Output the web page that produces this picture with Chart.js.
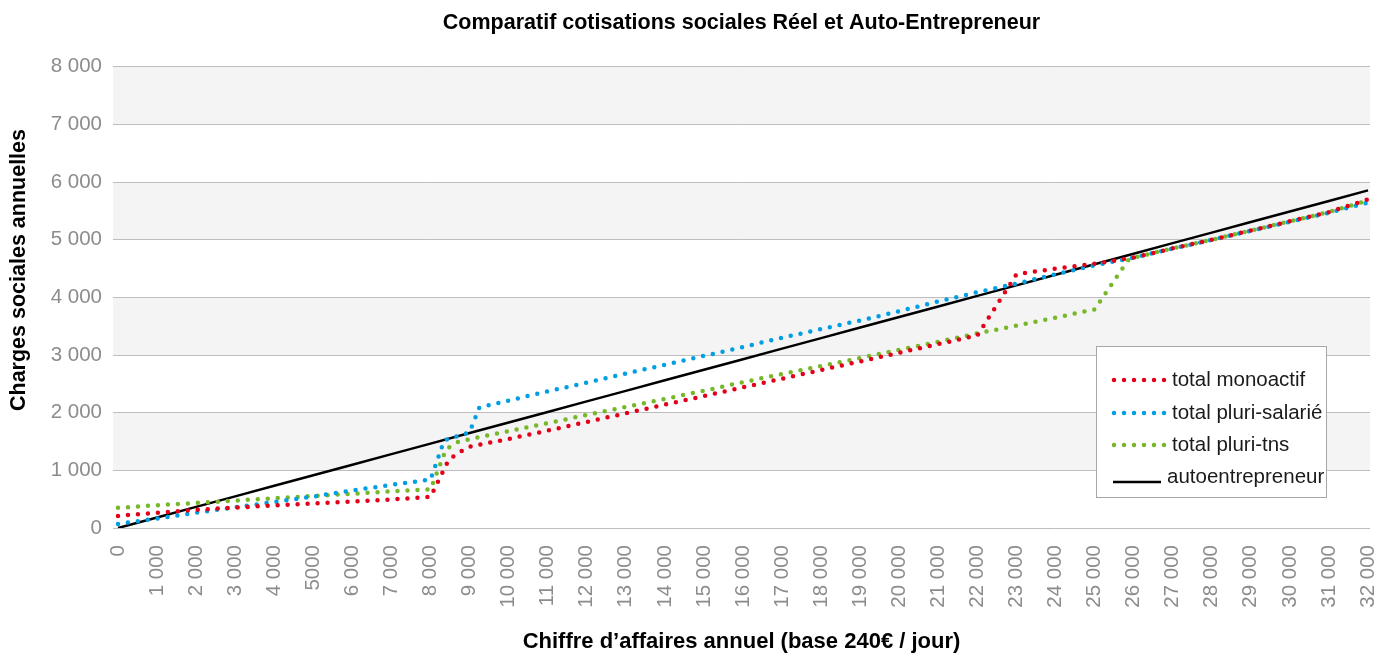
<!DOCTYPE html>
<html lang="fr">
<head>
<meta charset="utf-8">
<title>Comparatif cotisations sociales Réel et Auto-Entrepreneur</title>
<script src="https://cdn.jsdelivr.net/npm/chart.js@4.4.1/dist/chart.umd.min.js"></script>
<style>
  html, body { margin: 0; padding: 0; background: #fff; }
  #wrap { width: 1382px; height: 653px; position: relative; }
</style>
</head>
<body>
<div id="wrap"><canvas id="chart"></canvas></div>
<script>
const chartTitle = 'Comparatif cotisations sociales Réel et Auto-Entrepreneur';
const xTitle = 'Chiffre d\u2019affaires annuel (base 240€ / jour)';
const yTitle = 'Charges sociales annuelles';

// chiffre d'affaires (x axis)
const caTicks = [0, 1000, 2000, 3000, 4000, 5000, 6000, 7000, 8000, 9000, 10000,
  11000, 12000, 13000, 14000, 15000, 16000, 17000, 18000, 19000, 20000,
  21000, 22000, 23000, 24000, 25000, 26000, 27000, 28000, 29000, 30000, 31000, 32000];
const caLabels = ['0', '1 000', '2 000', '3 000', '4 000', '5000', '6 000', '7 000', '8 000', '9 000', '10 000',
  '11 000', '12 000', '13 000', '14 000', '15 000', '16 000', '17 000', '18 000', '19 000', '20 000',
  '21 000', '22 000', '23 000', '24 000', '25 000', '26 000', '27 000', '28 000', '29 000', '30 000', '31 000', '32 000'];

const yTicks = [0, 1000, 2000, 3000, 4000, 5000, 6000, 7000, 8000];
const yTickLabels = ['0', '1 000', '2 000', '3 000', '4 000', '5 000', '6 000', '7 000', '8 000'];

// total monoactif
const monoX = [0, 1000, 2000, 3000, 4000, 5000, 6000, 7000, 8000, 8450, 8650, 9000, 10000,
  11000, 12000, 13000, 14000, 15000, 16000, 17000, 18000, 19000, 20000,
  21000, 22000, 23000, 24000, 25000, 26000, 27000, 28000, 29000, 30000, 31000, 32000];
const monoY = [210, 265, 315, 355, 390, 425, 460, 495, 540, 1160, 1280, 1410, 1545,
  1690, 1840, 1990, 2140, 2290, 2440, 2590, 2740, 2890, 3040,
  3190, 3340, 4400, 4500, 4585, 4690, 4850, 5000, 5160, 5320, 5480, 5700];

// total pluri-salarié
const salX = [0, 1000, 2000, 3000, 4000, 5000, 6000, 7000, 8000, 8350, 9000, 9250, 10000,
  11000, 12000, 13000, 14000, 15000, 16000, 17000, 18000, 19000, 20000,
  21000, 22000, 23000, 24000, 25000, 26000, 27000, 28000, 29000, 30000, 31000, 32000];
const salY = [70, 165, 265, 360, 450, 545, 650, 750, 840, 1520, 1660, 2090, 2210,
  2370, 2520, 2680, 2830, 2985, 3140, 3300, 3450, 3600, 3760,
  3930, 4090, 4240, 4400, 4555, 4690, 4845, 5000, 5155, 5310, 5470, 5645];

// total pluri-tns
const tnsX = [0, 1000, 2000, 3000, 4000, 5000, 6000, 7000, 8000, 8400, 8700, 9000, 10000,
  11000, 12000, 13000, 14000, 15000, 16000, 17000, 18000, 19000, 20000,
  21000, 22000, 23000, 24000, 25000, 25850, 26000, 27000, 28000, 29000, 30000, 31000, 32000];
const tnsY = [350, 395, 435, 475, 515, 555, 595, 635, 670, 1370, 1490, 1540, 1680,
  1820, 1960, 2100, 2240, 2380, 2530, 2670, 2810, 2950, 3090,
  3230, 3375, 3510, 3650, 3790, 4640, 4690, 4850, 5000, 5160, 5320, 5480, 5680];

// autoentrepreneur
const autoY = [0, 183, 366, 549, 732, 915, 1098, 1281, 1464, 1647, 1830,
  2013, 2196, 2379, 2562, 2745, 2928, 3111, 3294, 3477, 3660,
  3843, 4026, 4209, 4392, 4575, 4758, 4941, 5124, 5307, 5490, 5673, 5856];

const FONT = '"Liberation Sans", Arial, Helvetica, sans-serif';
const GRAY = '#8c8c8c';

function pts(xs, ys) {
  return xs.map((x, i) => ({ x: x, y: ys[i] }));
}

const series = [
  { label: 'total monoactif', data: pts(monoX, monoY), color: '#e2001a', dotted: true },
  { label: 'total pluri-salarié', data: pts(salX, salY), color: '#009fe3', dotted: true },
  { label: 'total pluri-tns', data: pts(tnsX, tnsY), color: '#76b82a', dotted: true },
  { label: 'autoentrepreneur', data: pts(caTicks, autoY), color: '#000000', dotted: false }
];

// alternating grey bands behind the grid
const bandsPlugin = {
  id: 'bands',
  beforeDraw(chart) {
    const { ctx, chartArea: a, scales: { y } } = chart;
    ctx.save();
    ctx.fillStyle = '#f4f4f4';
    for (let i = 1; i < yTicks.length - 1; i += 2) {
      const top = y.getPixelForValue(yTicks[i + 1]);
      const bot = y.getPixelForValue(yTicks[i]);
      ctx.fillRect(a.left, top, a.right - a.left, bot - top);
    }
    ctx.restore();
  }
};

// y title + boxed legend like the excel one
const extrasPlugin = {
  id: 'extras',
  afterDraw(chart) {
    const ctx = chart.ctx;
    ctx.save();
    ctx.fillStyle = '#000';
    ctx.font = 'bold 21.5px ' + FONT;
    ctx.textAlign = 'center';
    ctx.textBaseline = 'middle';
    ctx.translate(19, 270);
    ctx.rotate(-Math.PI / 2);
    ctx.fillText(yTitle, 0, 0);
    ctx.restore();

    // legend box
    const bx = 1096, by = 346, bw = 230, bh = 151;
    ctx.save();
    ctx.fillStyle = '#fff';
    ctx.fillRect(bx, by, bw, bh);
    ctx.strokeStyle = '#a6a6a6';
    ctx.lineWidth = 1;
    ctx.strokeRect(bx + 0.5, by + 0.5, bw, bh);
    const rows = [380, 413, 445, 477];
    ctx.font = '20.5px ' + FONT;
    ctx.textBaseline = 'middle';
    series.forEach((s, i) => {
      const yy = rows[i];
      ctx.strokeStyle = s.color;
      ctx.beginPath();
      if (s.dotted) {
        ctx.lineWidth = 4.5;
        ctx.lineCap = 'round';
        ctx.setLineDash([0, 10]);
        ctx.moveTo(1114, yy);
        ctx.lineTo(1166, yy);
      } else {
        ctx.lineWidth = 2.5;
        ctx.lineCap = 'butt';
        ctx.setLineDash([]);
        ctx.moveTo(1113, yy + 5);
        ctx.lineTo(1161, yy + 5);
      }
      ctx.stroke();
      ctx.setLineDash([]);
      ctx.fillStyle = '#1a1a1a';
      ctx.fillText(s.label, s.dotted ? 1172 : 1167, yy);
    });
    ctx.restore();
  }
};

new Chart(document.getElementById('chart'), {
  type: 'line',
  data: {
    datasets: series.map(s => ({
      label: s.label,
      data: s.data,
      borderColor: s.color,
      backgroundColor: s.color,
      borderWidth: s.dotted ? 4.5 : 2.5,
      borderDash: s.dotted ? [0, 10] : [],
      borderCapStyle: s.dotted ? 'round' : 'butt',
      pointRadius: 0,
      tension: 0,
      fill: false
    }))
  },
  options: {
    responsive: true,
    maintainAspectRatio: false,
    animation: false,
    layout: { padding: { left: 0, right: 12, top: 0, bottom: 0 } },
    plugins: {
      legend: { display: false },
      tooltip: { enabled: false },
      title: {
        display: true,
        text: chartTitle,
        fullSize: false,
        color: '#000',
        font: { family: FONT, size: 21.5, weight: 'bold' },
        padding: { top: 10, bottom: 31 }
      }
    },
    scales: {
      x: {
        type: 'linear',
        min: -128,
        max: 32051,
        afterBuildTicks: scale => { scale.ticks = caTicks.map(v => ({ value: v })); },
        afterFit: scale => {
          scale.height = 125;
          scale.paddingLeft = 0;
          scale.paddingRight = 0;
        },
        grid: { display: false, drawTicks: false },
        border: { display: false },
        ticks: {
          autoSkip: false,
          minRotation: 90,
          maxRotation: 90,
          padding: 17,
          color: GRAY,
          font: { family: FONT, size: 20.5 },
          callback: (v, i) => caLabels[i]
        },
        title: {
          display: true,
          text: xTitle,
          color: '#000',
          font: { family: FONT, size: 22, weight: 'bold', lineHeight: 1 },
          padding: { top: 0, bottom: 0 }
        }
      },
      y: {
        min: 0,
        max: 8000,
        afterBuildTicks: scale => { scale.ticks = yTicks.map(v => ({ value: v })); },
        afterFit: scale => { scale.width = 113; },
        grid: { color: '#bdbdbd', lineWidth: 1, drawTicks: false },
        border: { display: false },
        ticks: {
          padding: 11,
          color: GRAY,
          font: { family: FONT, size: 20.5 },
          callback: (v, i) => yTickLabels[i]
        }
      }
    }
  },
  plugins: [bandsPlugin, extrasPlugin]
});
</script>
</body>
</html>
